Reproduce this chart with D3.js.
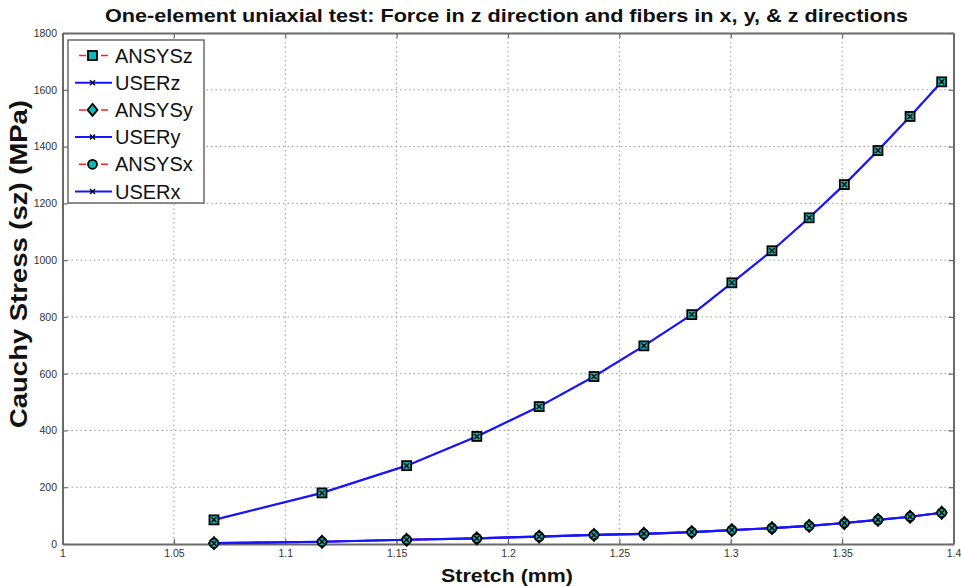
<!DOCTYPE html>
<html><head><meta charset="utf-8">
<script src="https://cdn.jsdelivr.net/npm/d3@7"></script>
<style>
html,body{margin:0;padding:0;background:#fff;}
svg{display:block;}
text{font-family:"Liberation Sans",Arial,Helvetica,sans-serif;}
</style></head><body>
<svg id="chart" width="961" height="586"></svg>
<script>
const stretch = [1.068, 1.1165, 1.1545, 1.186, 1.214, 1.2386, 1.261, 1.2825, 1.3005, 1.3185, 1.3352, 1.351, 1.3661, 1.3805, 1.3947];
const ansysZ = [85, 180, 276, 379, 484, 590, 698, 808, 920, 1033, 1149, 1266, 1386, 1506, 1628];
const userZ  = [85, 180, 276, 379, 484, 590, 698, 808, 920, 1033, 1149, 1266, 1386, 1506, 1628];
const ansysY = [3, 8, 15, 20, 26, 32, 36, 42, 49, 56, 64, 74, 85, 96, 110];
const userY  = [3, 8, 15, 20, 26, 32, 36, 42, 49, 56, 64, 74, 85, 96, 110];
const ansysX = [3, 8, 15, 20, 26, 32, 36, 42, 49, 56, 64, 74, 85, 96, 110];
const userX  = [3, 8, 15, 20, 26, 32, 36, 42, 49, 56, 64, 74, 85, 96, 110];
const xTicks = [1, 1.05, 1.1, 1.15, 1.2, 1.25, 1.3, 1.35, 1.4];
const yTicks = [0, 200, 400, 600, 800, 1000, 1200, 1400, 1600, 1800];
const seriesNames = ["ANSYSz", "USERz", "ANSYSy", "USERy", "ANSYSx", "USERx"];
const seriesKinds = ["square", "x", "diamond", "x", "circle", "x"];
const seriesData = [ansysZ, userZ, ansysY, userY, ansysX, userX];

const titleText = "One-element uniaxial test: Force in z direction and fibers in x, y, & z directions";
const xLabel = "Stretch (mm)";
const yLabel = "Cauchy Stress (sz) (MPa)";

const svg = d3.select("#chart");
const L = 62.5, R = 953.5, T = 33, B = 544;
const x = d3.scaleLinear().domain([1, 1.4]).range([L, R]);
const y = d3.scaleLinear().domain([0, 1800]).range([B, T]);

const frameColor = "#6a6a6a";
const gridColor = "#9a9a9a";
const red = "#ff2020", blue = "#1515ff", cyan = "#10b8b8";

// grid
const grid = svg.append("g");
grid.selectAll("line.vx").data(xTicks.slice(1, -1)).join("line")
  .attr("x1", d => x(d)).attr("x2", d => x(d)).attr("y1", T).attr("y2", B)
  .attr("stroke", gridColor).attr("stroke-width", 1).attr("stroke-dasharray", "1.5,3");
grid.selectAll("line.hy").data(yTicks.slice(1, -1)).join("line")
  .attr("x1", L).attr("x2", R).attr("y1", d => y(d)).attr("y2", d => y(d))
  .attr("stroke", gridColor).attr("stroke-width", 1).attr("stroke-dasharray", "1.5,3");

// axes (inward ticks)
const fmtX = d => d === 1 ? "1" : d3.format(".2~f")(d);
const axB = svg.append("g").attr("transform", `translate(0,${B})`)
  .call(d3.axisBottom(x).tickValues(xTicks).tickFormat(fmtX).tickSizeInner(-5).tickSizeOuter(0).tickPadding(5.5));
const axT = svg.append("g").attr("transform", `translate(0,${T})`)
  .call(d3.axisTop(x).tickValues(xTicks).tickFormat("").tickSizeInner(-5).tickSizeOuter(0));
const axL = svg.append("g").attr("transform", `translate(${L},0)`)
  .call(d3.axisLeft(y).tickValues(yTicks).tickFormat(d3.format("d")).tickSizeInner(-5).tickSizeOuter(0).tickPadding(5.5));
const axR = svg.append("g").attr("transform", `translate(${R},0)`)
  .call(d3.axisRight(y).tickValues(yTicks).tickFormat("").tickSizeInner(-5).tickSizeOuter(0));
[axB, axT, axL, axR].forEach(g => {
  g.select(".domain").attr("stroke", frameColor).attr("stroke-width", 2);
  g.selectAll(".tick line").attr("stroke", frameColor).attr("stroke-width", 1.2);
  g.selectAll(".tick text").attr("fill", "#333").attr("font-size", 10.5)
    .attr("font-family", "'Liberation Sans Narrow','Liberation Sans',Arial,sans-serif");
});

// lines
const line = d3.line().x((d, i) => x(stretch[i])).y(d => y(d));
seriesData.forEach((vals, k) => {
  const isAnsys = k % 2 === 0;
  svg.append("path").datum(vals).attr("d", line).attr("fill", "none")
    .attr("stroke", isAnsys ? red : blue).attr("stroke-width", isAnsys ? 1.5 : 2.2)
    .attr("stroke-dasharray", isAnsys ? "6,4" : null);
});

function drawMarker(g, kind, cx, cy) {
  if (kind === "square") {
    g.append("rect").attr("x", cx - 4.5).attr("y", cy - 4.5).attr("width", 9).attr("height", 9)
      .attr("fill", cyan).attr("stroke", "#000").attr("stroke-width", 1.8);
  } else if (kind === "diamond") {
    g.append("path").attr("d", `M${cx},${cy-6}L${cx+5},${cy}L${cx},${cy+6}L${cx-5},${cy}Z`)
      .attr("fill", cyan).attr("stroke", "#000").attr("stroke-width", 1.8);
  } else if (kind === "circle") {
    g.append("circle").attr("cx", cx).attr("cy", cy).attr("r", 4.5)
      .attr("fill", cyan).attr("stroke", "#000").attr("stroke-width", 1.8);
  } else {
    g.append("path").attr("d", `M${cx-2.5},${cy-2.5}L${cx+2.5},${cy+2.5}M${cx-2.5},${cy+2.5}L${cx+2.5},${cy-2.5}`)
      .attr("stroke", "#000").attr("stroke-width", 1.4).attr("fill", "none");
  }
}
seriesData.forEach((vals, k) => {
  const g = svg.append("g");
  vals.forEach((v, i) => drawMarker(g, seriesKinds[k], x(stretch[i]), y(v)));
});

// legend
const lg = svg.append("g");
lg.append("rect").attr("x", 68).attr("y", 40).attr("width", 136).attr("height", 163)
  .attr("fill", "#fff").attr("stroke", frameColor).attr("stroke-width", 1.5);
seriesNames.forEach((name, k) => {
  const cy = 55.5 + k * 27.2;
  const isAnsys = k % 2 === 0;
  if (isAnsys) {
    lg.append("line").attr("x1", 79).attr("x2", 112).attr("y1", cy).attr("y2", cy)
      .attr("stroke", red).attr("stroke-width", 1.5).attr("stroke-dasharray", "7,4");
  } else {
    lg.append("line").attr("x1", 75).attr("x2", 112).attr("y1", cy).attr("y2", cy)
      .attr("stroke", blue).attr("stroke-width", 2);
  }
  drawMarker(lg, seriesKinds[k], 92.5, cy);
  lg.append("text").attr("x", 115).attr("y", cy + 7).attr("font-size", 20).attr("fill", "#111").text(name);
});

// title and labels
svg.append("text").attr("x", 506.5).attr("y", 22).attr("text-anchor", "middle")
  .attr("font-size", 18).attr("font-weight", "bold").attr("fill", "#111")
  .attr("textLength", 803).attr("lengthAdjust", "spacingAndGlyphs").text(titleText);
svg.append("text").attr("x", 507).attr("y", 582).attr("text-anchor", "middle")
  .attr("font-size", 19).attr("font-weight", "bold").attr("fill", "#111")
  .attr("textLength", 132).attr("lengthAdjust", "spacingAndGlyphs").text(xLabel);
svg.append("text").attr("transform", "translate(27,264) rotate(-90)").attr("text-anchor", "middle")
  .attr("font-size", 23).attr("font-weight", "bold").attr("fill", "#111")
  .attr("textLength", 328).attr("lengthAdjust", "spacingAndGlyphs").text(yLabel);
</script>
</body></html>
